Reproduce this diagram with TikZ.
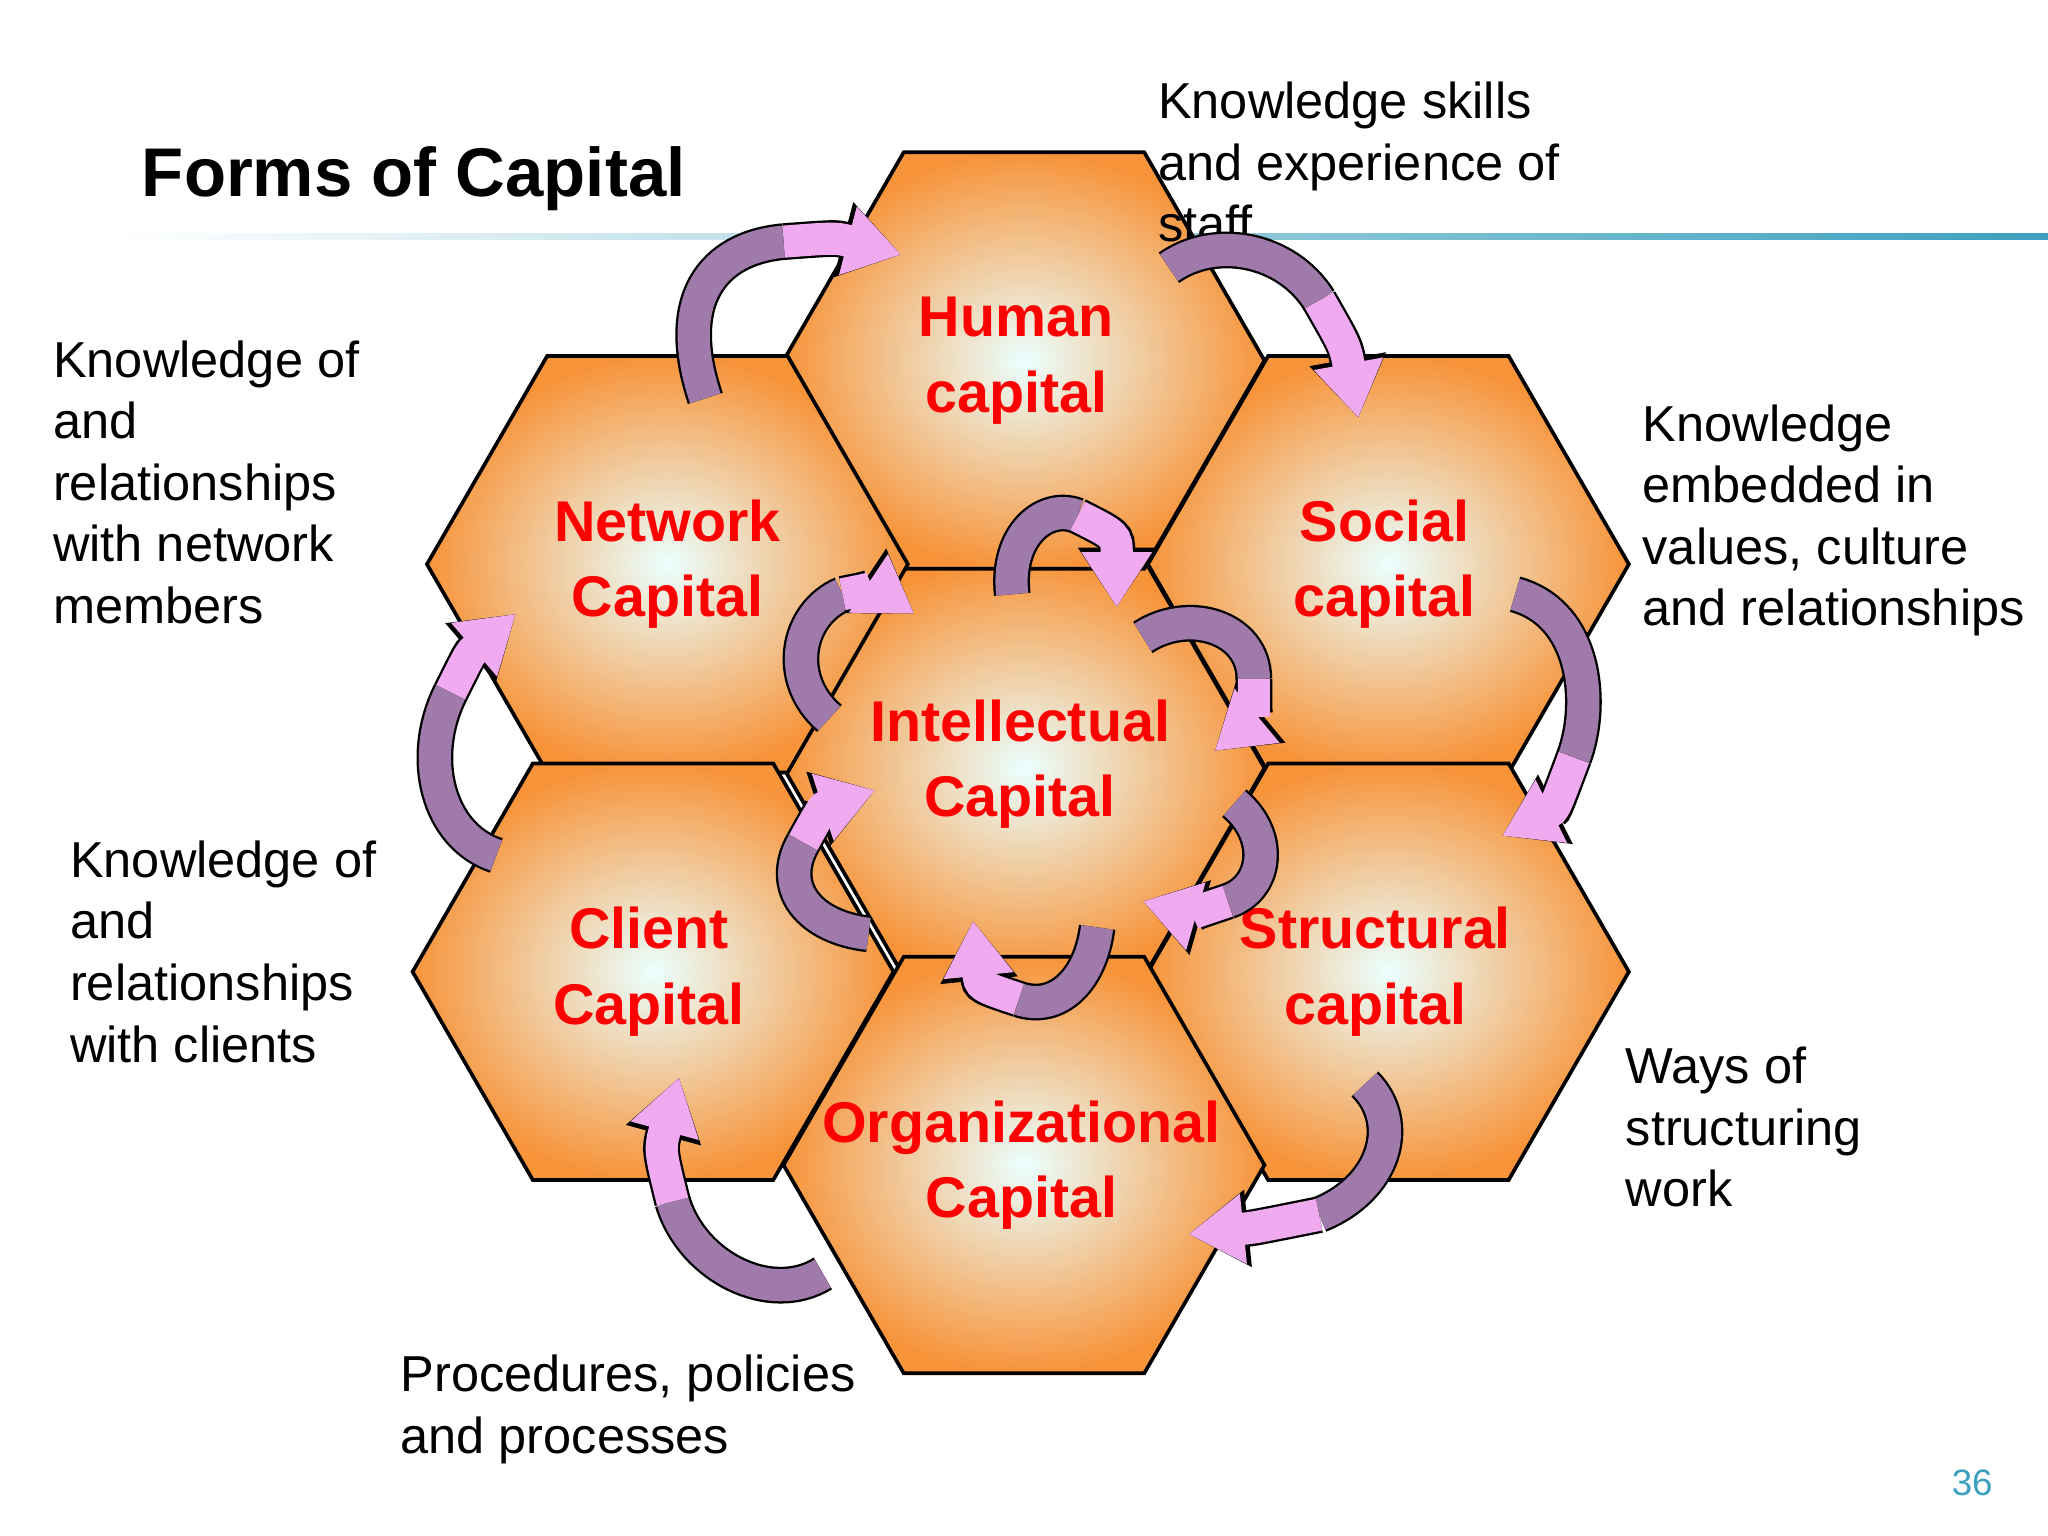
\documentclass[tikz,border=0pt]{standalone}
\usepackage{fontspec}
\setmainfont{Liberation Sans}
\usetikzlibrary{shapes.geometric,arrows.meta}
\definecolor{purp}{RGB}{160,122,171}
\definecolor{pinkk}{RGB}{240,170,240}
\definecolor{hexor}{RGB}{247,148,58}
\definecolor{tealc}{RGB}{60,160,190}
\tikzset{
 hexa/.style={regular polygon,regular polygon sides=6,minimum size=3.68cm,inner sep=0pt,draw=black,line width=0.8pt,
   inner color=cyan!8!white,outer color=hexor},
 hlab/.style={font=\fontsize{12.5}{16.5}\selectfont\bfseries,text=red,align=center,inner sep=0pt},
 tail/.style={draw=purp,line width=7pt,preaction={draw=black,line width=8pt}},
 head/.style={draw=pinkk,line width=7pt,preaction={draw=black,line width=8pt,-{Triangle[length=13pt,width=16pt]}},-{Triangle[length=12pt,width=14.5pt]}},
 lbl/.style={anchor=north west,inner sep=0pt,align=left,font=\fontsize{11}{13.4}\selectfont}
}
\begin{document}
\begin{tikzpicture}[x=0.01cm,y=-0.01cm]
\useasboundingbox[fill=white] (0,0) rectangle (1568,1176);
\shade[left color=white,right color=tealc] (90,179) rectangle (1568,183);
\node[font=\fontsize{15}{18}\selectfont\bfseries,anchor=west,inner sep=0pt] (title) at (108,137) {Forms of Capital};
\node[hexa] (ic) at (784,588) {};
\node[hexa] (hc) at (784,276) {};
\node[hexa] (nc) at (511,432) {};
\node[hexa] (sc) at (1063,432) {};
\node[hexa] (cc) at (500,744) {};
\node[hexa] (stc) at (1063,744) {};
\node[hexa] (oc) at (784,892) {};
\node[hlab] (hct) at (778,276) {Human\\capital};
\node[hlab] (nct) at (511,432) {Network\\Capital};
\node[hlab] (sct) at (1060,432) {Social\\capital};
\node[hlab] (cct) at (497,744) {Client\\Capital};
\node[hlab] (stct) at (1053,744) {Structural\\capital};
\node[hlab] (oct) at (782,892) {Organizational\\Capital};
\node[hlab] (ict) at (781,585) {Intellectual\\Capital};
\node[lbl] (t1) at (886,62) {Knowledge skills\\and experience of\\staff};
\node[lbl] (t2) at (40,260) {Knowledge of\\and\\relationships\\with network\\members};
\node[lbl] (t3) at (1257,309) {Knowledge\\embedded in\\values, culture\\and relationships};
\node[lbl] (t4) at (53,643) {Knowledge of\\and\\relationships\\with clients};
\node[lbl] (t5) at (1244,801) {Ways of\\structuring\\work};
\node[lbl] (t6) at (306,1037) {Procedures, policies\\and processes};
\node[text=tealc,font=\fontsize{8}{10}\selectfont] (pg) at (1510,1135) {36};
% outer arrows
\draw[tail] (540,305) .. controls (515,230) and (545,190) .. (600,185);
\draw[head] (600,185) .. controls (640,182) .. (690,195);
\draw[tail] (895,205) .. controls (930,180) and (985,190) .. (1010,230);
\draw[head] (1010,230) .. controls (1030,265) .. (1040,320);
\draw[tail] (1160,455) .. controls (1215,470) and (1220,540) .. (1205,580);
\draw[head] (1205,580) .. controls (1190,620) .. (1150,640);
\draw[tail] (1045,830) .. controls (1075,860) and (1060,910) .. (1010,930);
\draw[head] (1010,930) .. controls (960,940) .. (910,945);
\draw[tail] (630,975) .. controls (590,1000) and (530,970) .. (515,920);
\draw[head] (515,920) .. controls (505,880) .. (520,825);
\draw[tail] (380,655) .. controls (335,640) and (320,580) .. (345,530);
\draw[head] (345,530) .. controls (360,500) .. (395,470);
% inner arrows
\draw[tail] (775,455) .. controls (770,410) and (800,385) .. (825,395);
\draw[head] (825,395) .. controls (855,410) .. (855,465);
\draw[tail] (875,488) .. controls (910,465) and (960,480) .. (960,520);
\draw[head] (960,520) .. controls (960,550) .. (930,575);
\draw[tail] (945,615) .. controls (975,640) and (970,680) .. (940,690);
\draw[head] (940,690) .. controls (910,700) .. (875,690);
\draw[tail] (840,710) .. controls (835,750) and (810,775) .. (780,765);
\draw[head] (780,765) .. controls (750,755) .. (745,705);
\draw[tail] (665,715) .. controls (620,710) and (595,680) .. (615,645);
\draw[head] (615,645) .. controls (630,618) .. (670,605);
\draw[tail] (635,550) .. controls (600,520) and (610,470) .. (645,455);
\draw[head] (645,455) .. controls (670,450) .. (700,470);
\end{tikzpicture}
\end{document}
